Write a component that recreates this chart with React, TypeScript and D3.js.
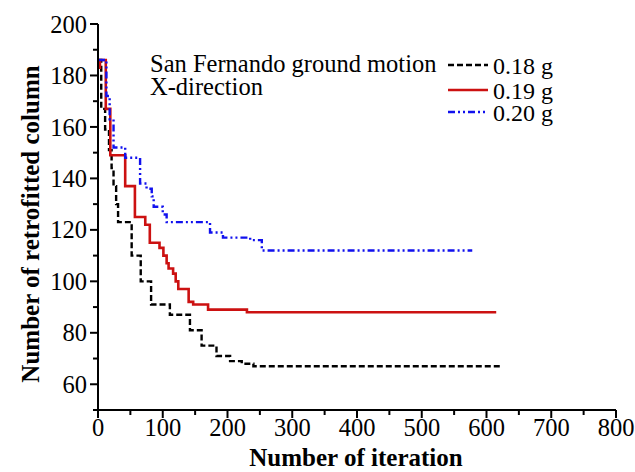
import React from "react";
import * as d3 from "d3";

// ---- data ----
const iter018 = [0, 5, 11, 17, 21, 24, 28, 31, 52, 66, 82, 111, 142, 160, 183, 204, 222, 240, 625];
const cols018 = [186, 167, 159, 151, 144, 137, 130, 123, 110, 100, 91, 87, 81, 75, 71, 69, 68, 67, 67];

const iter019 = [0, 3, 12, 19, 42, 57, 73, 80, 95, 101, 106, 109, 116, 120, 124, 140, 147, 170, 230, 615];
const cols019 = [183, 186, 167, 149, 137, 125, 122, 115, 113, 110, 107, 105, 103, 100, 97, 92, 91, 89, 88, 88];

const iter020 = [0, 13, 18, 24, 42, 65, 75, 83, 86, 100, 106, 173, 193, 235, 253, 578];
const cols020 = [186, 172, 163, 152, 148, 138, 136, 133, 129, 126, 123, 119, 117, 116, 112, 112];

const xTicks = [0, 100, 200, 300, 400, 500, 600, 700, 800];
const xMinorTicks = [50, 150, 250, 350, 450, 550, 650, 750];
const yTicks = [60, 80, 100, 120, 140, 160, 180, 200];
const yMinorTicks = [50, 70, 90, 110, 130, 150, 170, 190];

const legendLabels = ["0.18 g", "0.19 g", "0.20 g"];
const titleLines = ["San Fernando ground motion", "X-direction"];
const xTitle = "Number of iteration";
const yTitle = "Number of retrofitted column";

const W = 635;
const H = 472;
const FONT = "Liberation Serif, Times New Roman, serif";
const tStyle = { fontFamily: FONT };

export default function App() {
  const x = d3.scaleLinear().domain([0, 800]).range([98, 616]);
  const y = d3.scaleLinear().domain([50, 200]).range([410, 24]);

  const line = d3
    .line<[number, number]>()
    .x((d) => x(d[0]))
    .y((d) => y(d[1]))
    .curve(d3.curveStepAfter);

  const series = [
    { it: iter018, v: cols018, color: "#000000", dash: "6 3", width: 2.4 },
    { it: iter019, v: cols019, color: "#cc1111", dash: "none", width: 2.6 },
    { it: iter020, v: cols020, color: "#1111ee", dash: "7 3 2 3 2 3", width: 2.4 },
  ];

  const legendY = [65, 90, 112];

  return (
    <svg
      width={W}
      height={H}
      style={{ position: "absolute", left: 0, top: 0, background: "#fff" }}
    >
      <rect x={0} y={0} width={W} height={H} fill="#fff" />
      {/* series */}
      {series.map((s, i) => (
        <path
          key={i}
          d={line(s.it.map((t, k) => [t, s.v[k]] as [number, number])) || ""}
          fill="none"
          stroke={s.color}
          strokeWidth={s.width}
          strokeDasharray={s.dash}
        />
      ))}

      {/* axes */}
      <line x1={x(0)} x2={x(0)} y1={y(200)} y2={y(50) + 3} stroke="#000" strokeWidth={2} />
      <line x1={x(0) - 3} x2={x(800)} y1={y(50)} y2={y(50)} stroke="#000" strokeWidth={2} />

      {yTicks.map((t) => (
        <g key={"y" + t}>
          <line x1={x(0) - 8} x2={x(0)} y1={y(t)} y2={y(t)} stroke="#000" strokeWidth={2} />
          <text x={x(0) - 11} y={y(t)} dy="0.35em" textAnchor="end" fontSize={24.5} style={tStyle}>
            {t}
          </text>
        </g>
      ))}
      {yMinorTicks.map((t) => (
        <line key={"ym" + t} x1={x(0) - 5} x2={x(0)} y1={y(t)} y2={y(t)} stroke="#000" strokeWidth={2} />
      ))}
      {xTicks.map((t) => (
        <g key={"x" + t}>
          <line x1={x(t)} x2={x(t)} y1={y(50)} y2={y(50) + 8} stroke="#000" strokeWidth={2} />
          <text x={x(t)} y={y(50) + 26} textAnchor="middle" fontSize={24.5} style={tStyle}>
            {t}
          </text>
        </g>
      ))}
      {xMinorTicks.map((t) => (
        <line key={"xm" + t} x1={x(t)} x2={x(t)} y1={y(50)} y2={y(50) + 5} stroke="#000" strokeWidth={2} />
      ))}

      {/* axis titles */}
      <text x={356} y={466} textAnchor="middle" fontSize={25} fontWeight="bold" style={tStyle}>
        {xTitle}
      </text>
      <text
        transform="translate(39,224) rotate(-90)"
        textAnchor="middle"
        fontSize={25}
        fontWeight="bold"
        style={tStyle}
      >
        {yTitle}
      </text>

      {/* title block */}
      <text x={150} y={72} fontSize={24.5} style={tStyle}>
        {titleLines[0]}
      </text>
      <text x={150} y={95} fontSize={24.5} style={tStyle}>
        {titleLines[1]}
      </text>

      {/* legend */}
      {series.map((s, i) => (
        <g key={"lg" + i}>
          <line
            x1={448}
            x2={488}
            y1={legendY[i]}
            y2={legendY[i]}
            stroke={s.color}
            strokeWidth={s.width}
            strokeDasharray={s.dash}
          />
          <text x={493} y={legendY[i] + 9} fontSize={24} style={tStyle}>
            {legendLabels[i]}
          </text>
        </g>
      ))}
    </svg>
  );
}
